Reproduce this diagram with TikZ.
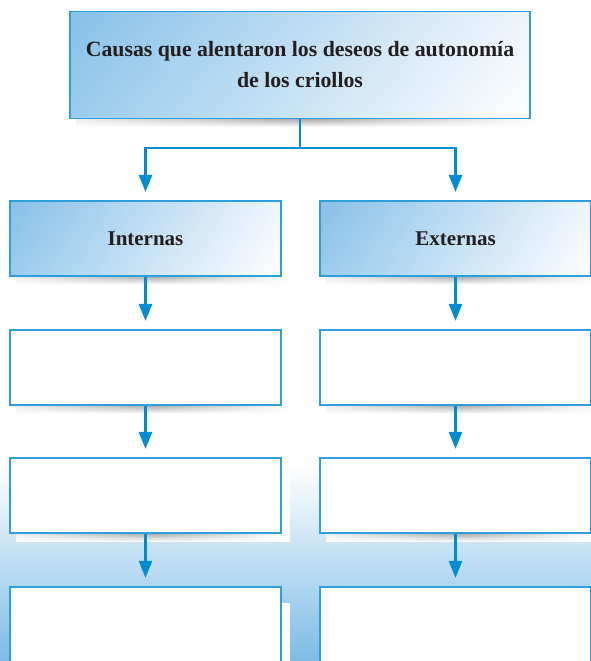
\documentclass[tikz,border=0pt]{standalone}
\usepackage{fontspec}
\setmainfont{Liberation Serif}
\usetikzlibrary{calc,arrows.meta,backgrounds,shadings,fadings}
\definecolor{bord}{RGB}{45,160,220}
\definecolor{arrc}{RGB}{0,140,210}
\definecolor{cUL}{RGB}{135,192,232}
\definecolor{cLL}{RGB}{155,204,236}
\definecolor{cUR}{RGB}{238,245,251}
\definecolor{bgblue}{RGB}{125,188,230}
\definecolor{txt}{RGB}{35,31,32}
\tikzfading[name=hfade, left color=transparent!80, right color=transparent!100, middle color=transparent!0]
\begin{document}
\begin{tikzpicture}[x=1pt,y=-1pt,
  font=\fontsize{21}{31}\selectfont\bfseries,
  hbox/.style={shade, upper left=cUL, upper right=cUR, lower left=cLL, lower right=white,
    draw=bord, line width=1.2pt, text=txt, align=center, inner sep=0pt},
  ebox/.style={fill=white, draw=bord, line width=1.2pt, inner sep=0pt},
  colbox/.style={minimum width=271pt, minimum height=75pt},
  conn/.style={draw=arrc, line width=2.6pt},
  arr/.style={conn, -{Triangle[width=13pt,length=17pt]}, shorten >=8.5pt}]
\useasboundingbox (0,0) rectangle (591,661);
\node[hbox, minimum width=460pt, minimum height=107pt,
  font=\fontsize{21.8}{31}\selectfont\bfseries] (top) at (300,65)
  {Causas que alentaron los deseos de autonomía\\de los criollos};
\node[hbox, colbox] (int) at (145.5,238.5) {Internas};
\node[hbox, colbox] (ext) at (455.5,238.5) {Externas};
\node[ebox, colbox] (i1) at (145.5,367.5) {};
\node[ebox, colbox] (e1) at (455.5,367.5) {};
\node[ebox, colbox] (i2) at (145.5,495.5) {};
\node[ebox, colbox] (e2) at (455.5,495.5) {};
\node[ebox, colbox] (i3) at (145.5,624.5) {};
\node[ebox, colbox] (e3) at (455.5,624.5) {};
\coordinate (j) at (300,148);
\draw[conn] (top.south) -- (j);
\draw[arr] (j) -| (int.north);
\draw[arr] (j) -| (ext.north);
\draw[arr] (int.south) -- (i1.north);
\draw[arr] (ext.south) -- (e1.north);
\draw[arr] (i1.south) -- (i2.north);
\draw[arr] (e1.south) -- (e2.north);
\draw[arr] (i2.south) -- (i3.north);
\draw[arr] (e2.south) -- (e3.north);
\begin{scope}[on background layer]
  \shade[top color=white, bottom color=bgblue] (0,465) rectangle (591,661);
  \foreach \n in {top,int,ext,i1,e1,i2,e2,i3,e3} {
    \fill[white] ($(\n.north west)+(7,17)$) rectangle ($(\n.south east)+(8,8)$);
    \shade[top color=black!32, bottom color=white, path fading=hfade]
      ($(\n.south west)+(7,0)$) rectangle ($(\n.south east)+(8,8)$);
  }
\end{scope}
\end{tikzpicture}
\end{document}
